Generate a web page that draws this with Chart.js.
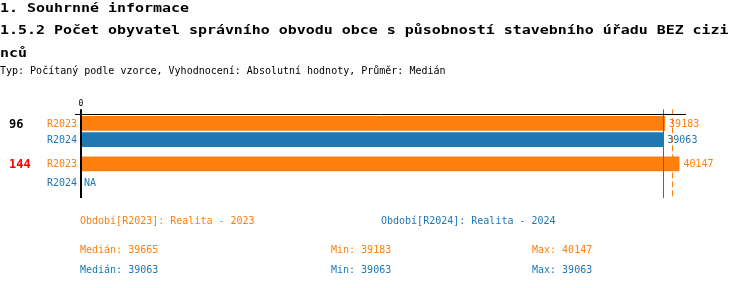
<!DOCTYPE html>
<html>
<head>
<meta charset="utf-8">
<script src="https://cdn.jsdelivr.net/npm/chart.js@4"></script>
<style>
  html, body { margin: 0; padding: 0; background: #fff; }
  #wrap { position: relative; width: 750px; height: 288px; overflow: hidden; }
  #chart { position: absolute; left: 0; top: 0; }
  .t { position: absolute; white-space: pre; font-family: 'DejaVu Sans Mono', monospace; }
  .h { font-size: 12.3px; line-height: 13px; font-weight: bold; color: #000;
       transform: scaleX(1.215); transform-origin: 0 0; }
  .s { font-size: 10px; line-height: 10px; }
</style>
</head>
<body>
<div id="wrap">
  <canvas id="chart" width="750" height="288"></canvas>
  <div class="t h" style="left:0;top:1.5px">1. Souhrnné informace</div>
  <div class="t h" style="left:0;top:24px">1.5.2 Počet obyvatel správního obvodu obce s působností stavebního úřadu BEZ cizi</div>
  <div class="t h" style="left:0;top:46.5px">nců</div>
  <div class="t s" style="left:0;top:65.5px">Typ: Počítaný podle vzorce, Vyhodnocení: Absolutní hodnoty, Průměr: Medián</div>
</div>
<script>
// ── Data ─────────────────────────────────────────────────────────────────────

const groups      = ['96', '144'];
const groupColors = ['#000000', '#ff0000'];
const periods     = ['R2023', 'R2024'];
const periodNames = ['Realita - 2023', 'Realita - 2024'];
const values2023  = [39183, 40147];
const values2024  = [39063, null];
const medians     = [39665, 39063];
const mins        = [39183, 39063];
const maxs        = [40147, 39063];

const COLORS = ['#ff7f0e', '#1f77b4'];
const FONT = "'DejaVu Sans Mono', monospace";

// ── Footer texts ─────────────────────────────────────────────────────────────

function addText(txt, x, y, color) {
  const el = document.createElement('div');
  el.className = 't s';
  el.style.left = x + 'px';
  el.style.top = y + 'px';
  el.style.color = color;
  el.textContent = txt;
  document.getElementById('wrap').appendChild(el);
}

periods.forEach((p, i) => {
  addText(`Období[${p}]: ${periodNames[i]}`, [80, 381][i], 215.8, COLORS[i]);
  const y = 244.8 + i * 20;
  addText(`Medián: ${medians[i]}`, 80, y, COLORS[i]);
  addText(`Min: ${mins[i]}`, 331, y, COLORS[i]);
  addText(`Max: ${maxs[i]}`, 532, y, COLORS[i]);
});

// ── Overlay plugin ───────────────────────────────────────────────────────────

const overlay = {
  id: 'overlay',
  afterDatasetsDraw(chart) {
    const { ctx, chartArea: a, scales: { x } } = chart;
    const x0 = x.getPixelForValue(0);
    ctx.save();

    // median lines
    medians.forEach((m, i) => {
      const px = Math.round(x.getPixelForValue(m)) + 0.5;
      ctx.strokeStyle = COLORS[i];
      ctx.lineWidth = 1;
      ctx.setLineDash(i === 0 ? [6, 3] : []);
      ctx.beginPath();
      ctx.moveTo(px, a.top - 2);
      ctx.lineTo(px, a.bottom + 6);
      ctx.stroke();
    });
    ctx.setLineDash([]);

    // top line + zero axis
    ctx.strokeStyle = '#000';
    ctx.lineWidth = 1;
    ctx.beginPath();
    ctx.moveTo(x0 - 6, Math.round(a.top + 3) + 0.5);
    ctx.lineTo(a.right, Math.round(a.top + 3) + 0.5);
    ctx.stroke();
    ctx.lineWidth = 2;
    ctx.beginPath();
    ctx.moveTo(x0, a.top - 2);
    ctx.lineTo(x0, a.bottom + 6);
    ctx.stroke();

    ctx.fillStyle = '#000';
    ctx.font = `8px ${FONT}`;
    ctx.textAlign = 'center';
    ctx.textBaseline = 'alphabetic';
    ctx.fillText('0', x0, a.top - 5);

    // labels
    ctx.textBaseline = 'middle';
    chart.data.datasets.forEach((ds, di) => {
      const meta = chart.getDatasetMeta(di);
      meta.data.forEach((bar, gi) => {
        const yc = bar.y + (v => v == null ? 2 : 0)(ds.data[gi]);
        ctx.font = `10px ${FONT}`;
        ctx.fillStyle = COLORS[di];
        ctx.textAlign = 'right';
        ctx.fillText(periods[di], x0 - 4, yc + 1);
        ctx.textAlign = 'left';
        const v = ds.data[gi];
        if (v == null) ctx.fillText('NA', x0 + 3, yc + 1);
        else ctx.fillText(String(v), bar.x + 4, yc + 1);
        if (di === 0) {
          ctx.font = `bold 12px ${FONT}`;
          ctx.fillStyle = groupColors[gi];
          ctx.fillText(groups[gi], 9, yc + 1);
        }
      });
    });
    ctx.restore();
  }
};

// ── Chart ────────────────────────────────────────────────────────────────────

new Chart(document.getElementById('chart'), {
  type: 'bar',
  data: {
    labels: groups,
    datasets: [
      { label: periods[0], data: values2023, backgroundColor: COLORS[0] },
      { label: periods[1], data: values2024, backgroundColor: COLORS[1] }
    ]
  },
  options: {
    indexAxis: 'y',
    responsive: false,
    animation: false,
    events: [],
    categoryPercentage: 0.8,
    barPercentage: 0.92,
    layout: { padding: { left: 81, right: 64, top: 111.3, bottom: 95.9 } },
    plugins: { legend: { display: false }, tooltip: { enabled: false }, title: { display: false } },
    scales: {
      x: { display: false, min: 0, max: 40585 },
      y: { display: false }
    }
  },
  plugins: [overlay]
});
</script>
</body>
</html>
